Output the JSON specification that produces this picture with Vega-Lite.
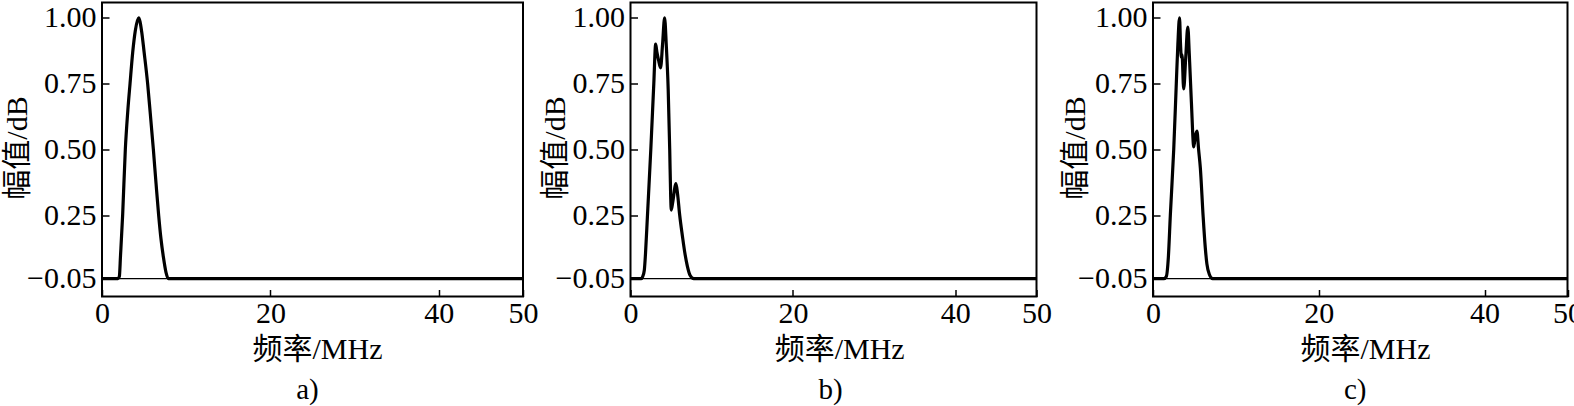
{
  "$schema": "https://vega.github.io/schema/vega-lite/v6.json",
  "background": "white",
  "padding": {"left": 1, "top": 1.5, "right": 0, "bottom": 0},
  "config": {
    "view": {"stroke": "black", "strokeWidth": 2},
    "axis": {
      "domain": false, "grid": false, "ticks": true,
      "tickColor": "black", "tickWidth": 1.5, "tickSize": -7,
      "labelColor": "black", "labelFont": "Liberation Serif", "labelFontSize": 30,
      "titleColor": "black", "titleFont": "'Liberation Serif', 'Noto Sans CJK SC'", "titleFontSize": 30, "titleFontWeight": "normal"
    },
    "title": {"font": "Liberation Serif", "fontSize": 29, "fontWeight": "normal", "color": "black"}
  },
  "datasets": {
    "curves": [
      {"panel": "a", "f": 0, "amp": -0.05}, {"panel": "a", "f": 1.9, "amp": -0.05}, {"panel": "a", "f": 2.06, "amp": -0.04},
      {"panel": "a", "f": 2.2, "amp": 0.06}, {"panel": "a", "f": 2.45, "amp": 0.25}, {"panel": "a", "f": 2.77, "amp": 0.5},
      {"panel": "a", "f": 3.05, "amp": 0.64}, {"panel": "a", "f": 3.33, "amp": 0.75}, {"panel": "a", "f": 3.65, "amp": 0.87},
      {"panel": "a", "f": 3.95, "amp": 0.95}, {"panel": "a", "f": 4.35, "amp": 1.0}, {"panel": "a", "f": 4.7, "amp": 0.95},
      {"panel": "a", "f": 5.0, "amp": 0.87}, {"panel": "a", "f": 5.42, "amp": 0.75}, {"panel": "a", "f": 5.75, "amp": 0.63},
      {"panel": "a", "f": 6.1, "amp": 0.5}, {"panel": "a", "f": 6.42, "amp": 0.37}, {"panel": "a", "f": 6.73, "amp": 0.25},
      {"panel": "a", "f": 7.0, "amp": 0.14}, {"panel": "a", "f": 7.3, "amp": 0.05}, {"panel": "a", "f": 7.6, "amp": -0.02},
      {"panel": "a", "f": 7.88, "amp": -0.05}, {"panel": "a", "f": 50, "amp": -0.05},

      {"panel": "b", "f": 0, "amp": -0.05}, {"panel": "b", "f": 1.3, "amp": -0.05}, {"panel": "b", "f": 1.5, "amp": -0.04},
      {"panel": "b", "f": 1.7, "amp": -0.01}, {"panel": "b", "f": 1.85, "amp": 0.07}, {"panel": "b", "f": 2.09, "amp": 0.25},
      {"panel": "b", "f": 2.5, "amp": 0.5}, {"panel": "b", "f": 2.87, "amp": 0.75}, {"panel": "b", "f": 3.1, "amp": 0.9},
      {"panel": "b", "f": 3.25, "amp": 0.87}, {"panel": "b", "f": 3.45, "amp": 0.84}, {"panel": "b", "f": 3.7, "amp": 0.81},
      {"panel": "b", "f": 3.95, "amp": 0.9}, {"panel": "b", "f": 4.2, "amp": 1.0}, {"panel": "b", "f": 4.4, "amp": 0.9},
      {"panel": "b", "f": 4.64, "amp": 0.73}, {"panel": "b", "f": 4.83, "amp": 0.5}, {"panel": "b", "f": 4.95, "amp": 0.32},
      {"panel": "b", "f": 5.02, "amp": 0.27}, {"panel": "b", "f": 5.2, "amp": 0.3}, {"panel": "b", "f": 5.6, "amp": 0.37},
      {"panel": "b", "f": 5.8, "amp": 0.33}, {"panel": "b", "f": 6.06, "amp": 0.25}, {"panel": "b", "f": 6.4, "amp": 0.15},
      {"panel": "b", "f": 6.7, "amp": 0.07}, {"panel": "b", "f": 7.0, "amp": 0.01}, {"panel": "b", "f": 7.35, "amp": -0.035},
      {"panel": "b", "f": 7.8, "amp": -0.05}, {"panel": "b", "f": 50, "amp": -0.05},

      {"panel": "c", "f": 0, "amp": -0.05}, {"panel": "c", "f": 1.3, "amp": -0.05}, {"panel": "c", "f": 1.6, "amp": -0.04},
      {"panel": "c", "f": 1.85, "amp": 0.05}, {"panel": "c", "f": 2.09, "amp": 0.25}, {"panel": "c", "f": 2.5, "amp": 0.5},
      {"panel": "c", "f": 2.81, "amp": 0.75}, {"panel": "c", "f": 3.0, "amp": 0.9}, {"panel": "c", "f": 3.2, "amp": 1.0},
      {"panel": "c", "f": 3.32, "amp": 0.9}, {"panel": "c", "f": 3.42, "amp": 0.85}, {"panel": "c", "f": 3.5, "amp": 0.86},
      {"panel": "c", "f": 3.7, "amp": 0.73}, {"panel": "c", "f": 3.95, "amp": 0.85}, {"panel": "c", "f": 4.2, "amp": 0.965},
      {"panel": "c", "f": 4.38, "amp": 0.86}, {"panel": "c", "f": 4.63, "amp": 0.68}, {"panel": "c", "f": 4.92, "amp": 0.51},
      {"panel": "c", "f": 5.1, "amp": 0.55}, {"panel": "c", "f": 5.3, "amp": 0.57}, {"panel": "c", "f": 5.5, "amp": 0.5},
      {"panel": "c", "f": 5.71, "amp": 0.43}, {"panel": "c", "f": 6.04, "amp": 0.25}, {"panel": "c", "f": 6.3, "amp": 0.1},
      {"panel": "c", "f": 6.5, "amp": 0.02}, {"panel": "c", "f": 6.8, "amp": -0.03}, {"panel": "c", "f": 7.2, "amp": -0.05},
      {"panel": "c", "f": 50, "amp": -0.05}
    ]
  },
  "data": {"name": "curves"},
  "bounds": "flush",
  "spacing": 107.5,
  "hconcat": [
    {
      "width": 421, "height": 294,
      "title": {"text": "a)", "orient": "bottom", "offset": 11, "dx": -5},
      "layer": [
        {
          "transform": [{"filter": "datum.panel == 'a'"}],
          "mark": {"type": "line", "color": "black", "strokeWidth": 3.2, "interpolate": "monotone"},
          "encoding": {
            "x": {"field": "f", "type": "quantitative", "scale": {"domain": [0, 50], "nice": false, "zero": false},
                  "axis": {"values": [0, 20, 40, 50], "title": "频率/MHz", "labelFlush": false, "labelOverlap": false, "labelPadding": 9, "titlePadding": 6, "titleX": 215}},
            "y": {"field": "amp", "type": "quantitative",
                  "scale": {"domain": [-0.134, -0.05, 0.25, 1.058], "range": [294, 276.2, 212.8, 0], "nice": false, "zero": false},
                  "axis": {"values": [-0.05, 0.25, 0.5, 0.75, 1.0], "format": ".2f", "title": "幅值/dB", "labelPadding": 13, "labelOverlap": false,
                           "titleX": -84.5, "titleY": 145, "titleAngle": -90, "titleAlign": "center", "titleBaseline": "middle"}}
          }
        },
        {
          "data": {"values": [{}]},
          "mark": {"type": "rule", "color": "black", "strokeWidth": 1.2},
          "encoding": {"y": {"datum": -0.05}}
        }
      ]
    },
    {
      "bounds": "flush",
      "spacing": 116.5,
      "hconcat": [
        {
          "width": 406, "height": 294,
          "title": {"text": "b)", "orient": "bottom", "offset": 11, "dx": -3},
          "layer": [
            {
              "transform": [{"filter": "datum.panel == 'b'"}],
              "mark": {"type": "line", "color": "black", "strokeWidth": 3.2, "interpolate": "monotone"},
              "encoding": {
                "x": {"field": "f", "type": "quantitative", "scale": {"domain": [0, 50], "nice": false, "zero": false},
                      "axis": {"values": [0, 20, 40, 50], "title": "频率/MHz", "labelFlush": false, "labelOverlap": false, "labelPadding": 9, "titlePadding": 6, "titleX": 208.7}},
                "y": {"field": "amp", "type": "quantitative",
                      "scale": {"domain": [-0.134, -0.05, 0.25, 1.058], "range": [294, 276.2, 212.8, 0], "nice": false, "zero": false},
                      "axis": {"values": [-0.05, 0.25, 0.5, 0.75, 1.0], "format": ".2f", "title": "幅值/dB", "labelPadding": 13, "labelOverlap": false,
                               "titleX": -75, "titleY": 145, "titleAngle": -90, "titleAlign": "center", "titleBaseline": "middle"}}
              }
            },
            {
              "data": {"values": [{}]},
              "mark": {"type": "rule", "color": "black", "strokeWidth": 1.2},
              "encoding": {"y": {"datum": -0.05}}
            }
          ]
        },
        {
          "width": 414.5, "height": 294,
          "title": {"text": "c)", "orient": "bottom", "offset": 11, "dx": -5},
          "layer": [
            {
              "transform": [{"filter": "datum.panel == 'c'"}],
              "mark": {"type": "line", "color": "black", "strokeWidth": 3.2, "interpolate": "monotone"},
              "encoding": {
                "x": {"field": "f", "type": "quantitative", "scale": {"domain": [0, 50], "nice": false, "zero": false},
                      "axis": {"values": [0, 20, 40, 50], "title": "频率/MHz", "labelFlush": false, "labelOverlap": false, "labelPadding": 9, "titlePadding": 6, "titleX": 212}},
                "y": {"field": "amp", "type": "quantitative",
                      "scale": {"domain": [-0.134, -0.05, 0.25, 1.058], "range": [294, 276.2, 212.8, 0], "nice": false, "zero": false},
                      "axis": {"values": [-0.05, 0.25, 0.5, 0.75, 1.0], "format": ".2f", "title": "幅值/dB", "labelPadding": 13, "labelOverlap": false,
                               "titleX": -77.5, "titleY": 145, "titleAngle": -90, "titleAlign": "center", "titleBaseline": "middle"}}
              }
            },
            {
              "data": {"values": [{}]},
              "mark": {"type": "rule", "color": "black", "strokeWidth": 1.2},
              "encoding": {"y": {"datum": -0.05}}
            }
          ]
        }
      ]
    }
  ]
}
